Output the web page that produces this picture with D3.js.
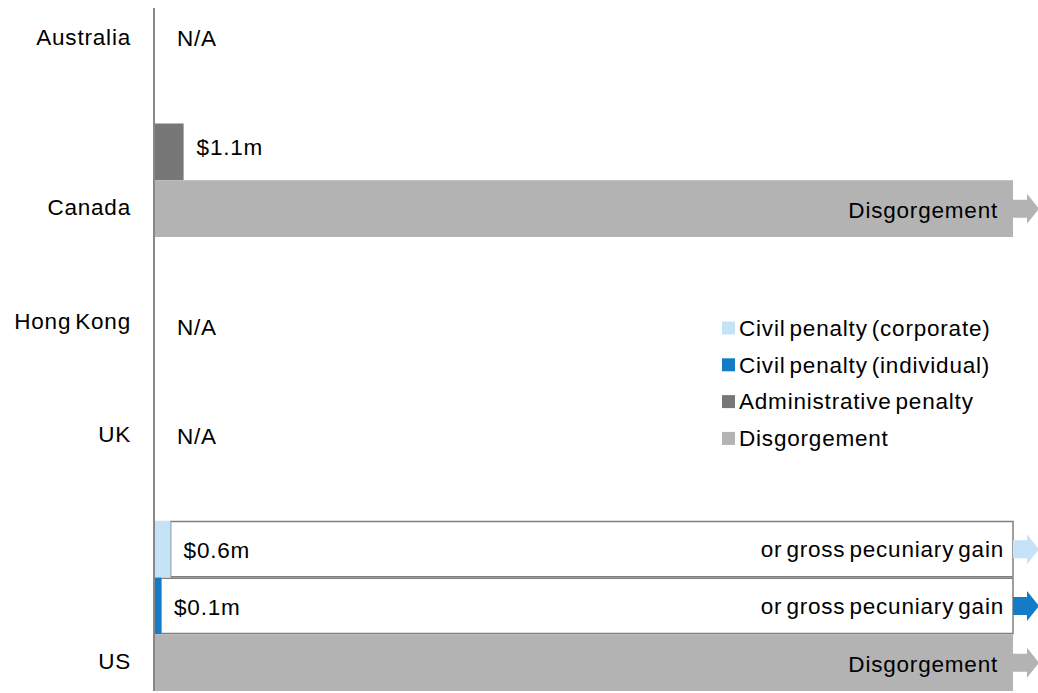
<!DOCTYPE html>
<html>
<head>
<meta charset="utf-8">
<script src="https://cdn.jsdelivr.net/npm/d3@7"></script>
<style>
  html, body { margin: 0; padding: 0; background: #fff; }
  svg text { font-family: "Liberation Sans", Arial, sans-serif; fill: #000; letter-spacing: 0.8px; word-spacing: -3px; }
</style>
</head>
<body>
<svg id="chart" width="1038" height="693"></svg>
<script>
// ---- data ----
const rowKeys = ["Australia", "gap-1", "Canada admin", "Canada", "gap-2", "Hong Kong", "gap-3", "UK", "gap-4", "US corp", "US indiv", "US"];
const countries = ["Australia", "Canada", "Hong Kong", "UK", "US"];
const notAvailable = ["Australia", "Hong Kong", "UK"];

const seriesNames = ["Civil penalty (corporate)", "Civil penalty (individual)", "Administrative penalty", "Disgorgement"];
const seriesColors = ["#c5e2f7", "#147cc6", "#777777", "#b3b3b3"];

// bars: row, series, value ($m; Infinity = open-ended), label, open-ended note
const barRows   = ["Canada admin", "Canada", "US corp", "US indiv", "US"];
const barSeries = ["Administrative penalty", "Disgorgement", "Civil penalty (corporate)", "Civil penalty (individual)", "Disgorgement"];
const barValues = [1.1, Infinity, 0.6, 0.1, Infinity];
const barLabels = ["$1.1m", "Disgorgement", "$0.6m", "$0.1m", "Disgorgement"];
const barNotes  = [null, null, "or gross pecuniary gain", "or gross pecuniary gain", null];
const xMax = 33;

// ---- chart ----
const FS = 22.5;
const svg = d3.select("#chart");
const x = d3.scaleLinear().domain([0, xMax]).range([155, 1013]).clamp(true);
const y = d3.scaleBand().domain(rowKeys).range([10, 691]).padding(0);
const color = d3.scaleOrdinal().domain(seriesNames).range(seriesColors);

const bars = barRows.map((r, i) => ({
  row: r, series: barSeries[i], value: barValues[i], label: barLabels[i], note: barNotes[i]
}));

const minW = 6;
const barEnd = d => isFinite(d.value) ? x(0) + Math.max(x(d.value) - x(0), minW) : x(xMax);
const cy = d => y(d.row) + y.bandwidth() / 2;

// white open-ended boxes
const boxes = bars.filter(d => d.note);
svg.selectAll("rect.box").data(boxes).join("rect")
  .attr("class", "box")
  .attr("x", d => barEnd(d))
  .attr("y", d => y(d.row) + 0.75)
  .attr("width", d => x(xMax) - barEnd(d))
  .attr("height", y.bandwidth() - 1.5)
  .attr("fill", "#fff")
  .attr("stroke", "#7f7f7f")
  .attr("stroke-width", 1.5);

// bars
svg.selectAll("rect.bar").data(bars).join("rect")
  .attr("class", "bar")
  .attr("x", x(0))
  .attr("y", d => y(d.row))
  .attr("width", d => barEnd(d) - x(0))
  .attr("height", y.bandwidth())
  .attr("fill", d => color(d.series));

// arrows for open-ended
const arrowed = bars.filter(d => !isFinite(d.value) || d.note);
svg.selectAll("path.arrow").data(arrowed).join("path")
  .attr("class", "arrow")
  .attr("fill", d => color(d.series))
  .attr("d", d => {
    const x0 = x(xMax), c = cy(d);
    return `M${x0},${c - 9}H${x0 + 14}V${c - 15}L${x0 + 26},${c}L${x0 + 14},${c + 15}V${c + 9}H${x0}Z`;
  });

// value labels (the admin label sits slightly above its bar centre)
svg.selectAll("text.val").data(bars.filter(d => isFinite(d.value))).join("text")
  .attr("class", "val")
  .attr("x", d => barEnd(d) + 13)
  .attr("y", d => cy(d) + (d.series === "Administrative penalty" ? -5 : 1))
  .attr("dy", "0.35em")
  .attr("font-size", FS)
  .text(d => d.label);

svg.selectAll("text.inbar").data(bars.filter(d => !isFinite(d.value))).join("text")
  .attr("class", "inbar")
  .attr("x", x(xMax) - 15)
  .attr("y", d => cy(d) + 1)
  .attr("dy", "0.35em")
  .attr("text-anchor", "end")
  .attr("font-size", FS)
  .text(d => d.label);

svg.selectAll("text.note").data(boxes).join("text")
  .attr("class", "note")
  .attr("x", x(xMax) - 9)
  .attr("y", d => cy(d))
  .attr("dy", "0.35em")
  .attr("text-anchor", "end")
  .attr("font-size", FS)
  .text(d => d.note);

// N/A
svg.selectAll("text.na").data(notAvailable).join("text")
  .attr("class", "na")
  .attr("x", 177)
  .attr("y", d => y(d) + y.bandwidth() / 2 + (d === "Hong Kong" ? 5 : 0))
  .attr("dy", "0.35em")
  .attr("font-size", FS)
  .text("N/A");

// axis
const axis = svg.append("g")
  .attr("transform", "translate(154,0)")
  .call(d3.axisLeft(y).tickValues(countries).tickSize(0).tickSizeOuter(0).tickPadding(23));
axis.select(".domain").attr("d", `M0,8V${y.range()[1]}`).attr("stroke", "#888").attr("stroke-width", 2);
axis.selectAll(".tick text").attr("font-size", FS).attr("font-family", null).attr("fill", "#000").attr("dy", "0.3em");

// legend
const lg = svg.append("g").attr("transform", "translate(722,328)");
const li = lg.selectAll("g").data(seriesNames).join("g")
  .attr("transform", (d, i) => `translate(0,${i * 36.8})`);
li.append("rect").attr("x", 0).attr("y", -6.5).attr("width", 13).attr("height", 13).attr("fill", d => color(d));
li.append("text").attr("x", 17).attr("dy", "0.35em").attr("font-size", FS).text(d => d);
</script>
</body>
</html>
